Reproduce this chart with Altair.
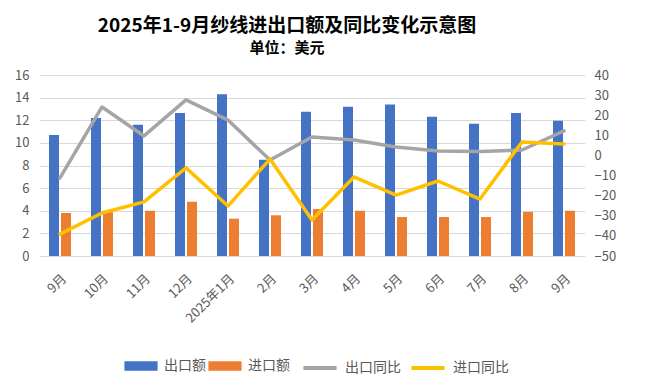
import json
import altair as alt
import pandas as pd

keys = ["2024-09", "2024-10", "2024-11", "2024-12", "2025-01", "2025-02", "2025-03",
        "2025-04", "2025-05", "2025-06", "2025-07", "2025-08", "2025-09"]
labels = ["9月", "10月", "11月", "12月", "2025年1月", "2月", "3月", "4月", "5月", "6月", "7月", "8月", "9月"]
export_val = [10.7, 12.2, 11.6, 12.65, 14.3, 8.5, 12.75, 13.2, 13.4, 12.3, 11.7, 12.65, 11.95]
import_val = [3.8, 4.0, 4.0, 4.8, 3.3, 3.6, 4.15, 4.0, 3.45, 3.45, 3.45, 3.9, 4.0]
export_yoy = [-11.2, 24.1, 9.7, 27.6, 17.6, -2.3, 9.2, 7.7, 4.2, 2.2, 2.0, 2.7, 12.2]
import_yoy = [-39.1, -28.6, -23.1, -6.2, -25.1, -1.8, -32.1, -10.7, -19.7, -12.7, -21.7, 6.7, 5.7]

bar_series = ["出口额", "进口额"]
line_series = ["出口同比", "进口同比"]

bars = pd.DataFrame(
    [{"month": k, "series": bar_series[0], "value": v} for k, v in zip(keys, export_val)]
    + [{"month": k, "series": bar_series[1], "value": v} for k, v in zip(keys, import_val)]
)
lines = pd.DataFrame(
    [{"month": k, "series": line_series[0], "value": v} for k, v in zip(keys, export_yoy)]
    + [{"month": k, "series": line_series[1], "value": v} for k, v in zip(keys, import_yoy)]
)

FONT = "Noto Sans CJK SC"
GRAY = "#595959"
label_expr = f"{json.dumps(labels, ensure_ascii=False)}[indexof({json.dumps(keys)}, datum.value)]"

x_enc = alt.X(
    "month:N",
    sort=keys,
    scale=alt.Scale(paddingInner=20 / 42, paddingOuter=10 / 42),
    axis=alt.Axis(title=None, labelAngle=-45, labelExpr=label_expr, ticks=False, domain=False,
                  grid=False, labelFontSize=13, labelColor=GRAY, labelFont=FONT,
                  labelOffset=0, labelPadding=16),
)

bar_layer = alt.Chart(bars).mark_bar().encode(
    x=x_enc,
    xOffset=alt.XOffset("series:N", sort=bar_series,
                        scale=alt.Scale(paddingInner=1 / 6, paddingOuter=0)),
    y=alt.Y("value:Q", scale=alt.Scale(domain=[0, 16], nice=False),
            axis=alt.Axis(title=None, orient="left", values=list(range(0, 17, 2)), grid=True,
                          gridColor="#d9d9d9", gridWidth=1, domain=False, ticks=False,
                          labelFontSize=13, labelColor=GRAY, labelFont=FONT, labelPadding=10)),
    color=alt.Color("series:N", sort=bar_series,
                    scale=alt.Scale(domain=bar_series, range=["#4472C4", "#ED7D31"]),
                    legend=alt.Legend(orient="none", legendX=85, legendY=274, direction="horizontal",
                                      title=None, symbolType="M-1,-0.28H1V0.28H-1Z", symbolSize=1100,
                                      symbolStrokeWidth=0, labelFontSize=14, labelColor=GRAY,
                                      labelFont=FONT, columnPadding=2, labelOffset=6)),
)

line_layer = alt.Chart(lines).mark_line(strokeWidth=3.5, strokeJoin="round", strokeCap="round").encode(
    x=alt.X("month:N", sort=keys),
    y=alt.Y("value:Q", scale=alt.Scale(domain=[-50, 40], nice=False),
            axis=alt.Axis(title=None, orient="right", values=list(range(-50, 41, 10)), grid=False,
                          domain=False, ticks=False, labelFontSize=13, labelColor=GRAY,
                          labelFont=FONT, labelPadding=9)),
    stroke=alt.Stroke("series:N", sort=line_series,
                      scale=alt.Scale(domain=line_series, range=["#A5A5A5", "#FFC000"]),
                      legend=alt.Legend(orient="none", legendX=262, legendY=274, direction="horizontal",
                                        title=None, symbolType="stroke", symbolSize=1100,
                                        symbolStrokeWidth=4, labelFontSize=14, labelColor=GRAY,
                                        labelFont=FONT, columnPadding=2, labelOffset=6)),
    order=alt.Order("series:N"),
)

chart = (
    alt.layer(bar_layer, line_layer)
    .resolve_scale(y="independent", color="independent")
    .properties(
        width=546,
        height=181,
        autosize=alt.AutoSizeParams(type="none"),
        padding={"left": 31, "top": 67, "right": 52, "bottom": 120},
        title=alt.TitleParams(
            text="2025年1-9月纱线进出口额及同比变化示意图",
            subtitle="单位：美元",
            anchor="middle",
            dx=-25,
            offset=13,
            font=FONT,
            fontSize=19,
            fontWeight="bold",
            color="#000000",
            subtitleFont=FONT,
            subtitleFontSize=15,
            subtitleFontWeight="bold",
            subtitleColor="#000000",
            subtitlePadding=5,
        ),
    )
    .configure_view(stroke=None)
)

chart.save("out.html", embed_options={"renderer": "svg", "actions": False})
